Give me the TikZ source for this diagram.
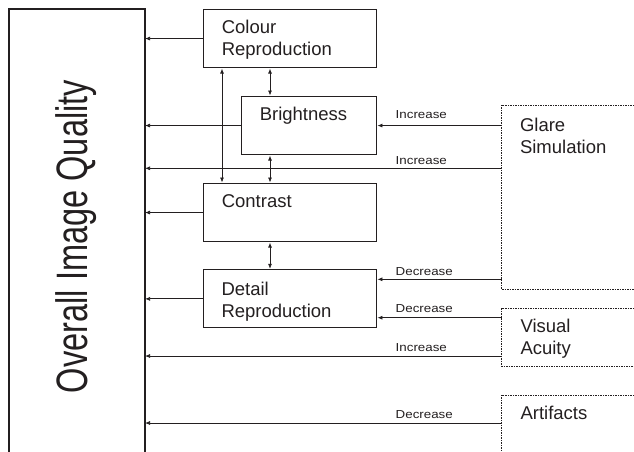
\documentclass[tikz,border=0pt]{standalone}
\usepackage{fontspec}
\setmainfont{Liberation Sans}
\usetikzlibrary{arrows.meta,calc}
\definecolor{ink}{HTML}{231F20}
\begin{document}
\begin{tikzpicture}[x=1pt,y=-1pt,
  box/.style={draw=ink,line width=1.1pt,rectangle,inner sep=0pt,anchor=north west},
  ghost/.style={draw=none,rectangle,inner sep=0pt,anchor=north west},
  btxt/.style={text=ink,inner sep=0pt,font=\fontsize{18.5}{22}\selectfont,align=left,anchor=north west},
  lab/.style={text=ink,inner sep=0pt,font=\fontsize{11.6}{12}\selectfont,anchor=base west},
  conn/.style={draw=ink,line width=0.75pt,-{Latex[length=5pt,width=4pt]},shorten >=0.3pt},
  dconn/.style={draw=ink,line width=0.75pt,{Latex[length=5pt,width=4pt]}-{Latex[length=5pt,width=4pt]},shorten >=0.5pt,shorten <=0.5pt},
  dashbox/.style={draw=ink,line width=0.8pt,dash pattern=on 1.5pt off 1pt}]
\useasboundingbox (0,0) rectangle (634,451);

% big box
\node[ghost,minimum width=135.3pt,minimum height=443pt] (oiq) at (9,9) {};
\draw[line width=2.2pt,draw=ink] (oiq.south west) -- (oiq.north west) -- (oiq.north east) -- (oiq.south east);
\node[rotate=90,anchor=base,inner sep=0pt,text=ink] (oiqT) at (87.8,236.5)
  {\scalebox{0.74}[1]{\fontsize{44}{44}\selectfont Overall Image Quality}};

% solid boxes
\node[box,minimum width=173.3pt,minimum height=58pt] (colour) at (202.7,9) {};
\node[box,minimum width=135pt,minimum height=58pt] (bright) at (241,96) {};
\node[box,minimum width=173.3pt,minimum height=58pt] (contrast) at (202.7,183) {};
\node[box,minimum width=173.3pt,minimum height=58pt] (detail) at (202.7,269.3) {};

\node[btxt] (colourT) at (221.6,19.8) {Colour\\Reproduction};
\node[btxt] (brightT) at (259.6,106.8) {Brightness};
\node[btxt] (contrastT) at (221.6,194.2) {Contrast};
\node[btxt] (detailT) at (221.3,281.5) {Detail\\Reproduction};

% dashed boxes
\node[ghost,minimum width=132.3pt,minimum height=184pt] (glare) at (501.7,105) {};
\node[ghost,minimum width=132.3pt,minimum height=57.4pt] (visual) at (501.7,308.3) {};
\node[ghost,minimum width=132.3pt,minimum height=56pt] (art) at (501.7,395) {};
\draw[dashbox] (glare.north east) -- (glare.north west) -- (glare.south west) -- (glare.south east);
\draw[dashbox] (visual.north east) -- (visual.north west) -- (visual.south west) -- (visual.south east);
\draw[dashbox] (art.north east) -- (art.north west) -- (art.south west);

\node[btxt] (glareT) at (519.8,118) {Glare\\Simulation};
\node[btxt] (visualT) at (520.3,319) {Visual\\Acuity};
\node[btxt] (artT) at (520.3,405.7) {Artifacts};

% helper coordinates
\coordinate (yB) at (0,168.3);
\coordinate (yC) at (0,279.3);
\coordinate (yD) at (0,317.7);
\coordinate (yE) at (0,356);
\coordinate (yF) at (0,423);
\coordinate (xA) at (222,0);
\coordinate (xB) at (270,0);

% connectors to overall box
\draw[conn] (colour.west) -- (colour.west -| oiq.east);
\draw[conn] (bright.west) -- (bright.west -| oiq.east);
\draw[conn] (contrast.west) -- (contrast.west -| oiq.east);
\draw[conn] (detail.west) -- (detail.west -| oiq.east);

% connectors from dashed boxes
\draw[conn] (glare.west |- bright.east) -- (bright.east);
\draw[conn] (glare.west |- yB) -- (oiq.east |- yB);
\draw[conn] (glare.west |- yC) -- (detail.east |- yC);
\draw[conn] (visual.west |- yD) -- (detail.east |- yD);
\draw[conn] (visual.west |- yE) -- (oiq.east |- yE);
\draw[conn] (art.west |- yF) -- (oiq.east |- yF);

% vertical double arrows
\draw[dconn] (colour.south -| xA) -- (contrast.north -| xA);
\draw[dconn] (colour.south -| xB) -- (bright.north -| xB);
\draw[dconn] (bright.south -| xB) -- (contrast.north -| xB);
\draw[dconn] (contrast.south -| xB) -- (detail.north -| xB);

% labels
\node[lab] (l1) at (395.5,118.3) {\scalebox{1.15}[1]{Increase}};
\node[lab] (l2) at (395.5,164) {\scalebox{1.15}[1]{Increase}};
\node[lab] (l3) at (395.5,275) {\scalebox{1.15}[1]{Decrease}};
\node[lab] (l4) at (395.5,312.7) {\scalebox{1.15}[1]{Decrease}};
\node[lab] (l5) at (395.5,351.7) {\scalebox{1.15}[1]{Increase}};
\node[lab] (l6) at (395.5,418.3) {\scalebox{1.15}[1]{Decrease}};
\end{tikzpicture}
\end{document}
